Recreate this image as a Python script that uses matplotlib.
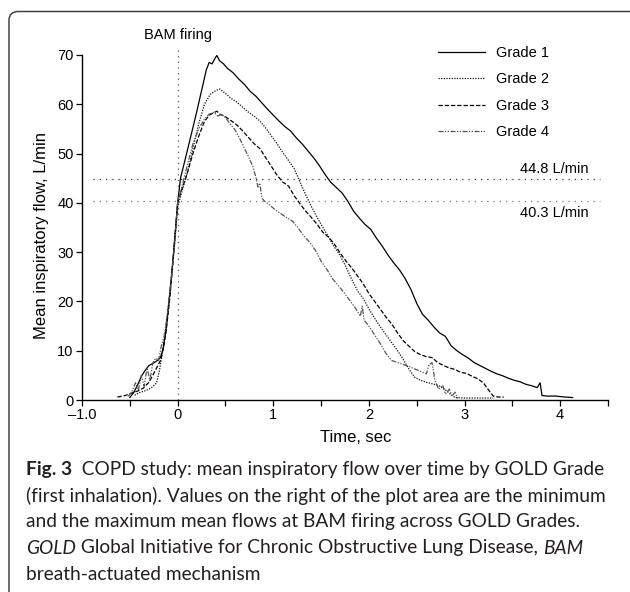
import numpy as np
import matplotlib.pyplot as plt
from matplotlib.patches import FancyBboxPatch

plt.rcParams['font.family'] = ['Liberation Sans', 'DejaVu Sans']

# mean inspiratory flow (L/min) vs time (sec)
t_g1 = [-0.50, -0.46, -0.42, -0.38, -0.34, -0.30, -0.26, -0.22, -0.18, -0.15, -0.12, -0.09,
        -0.06, -0.03, 0.00, 0.03, 0.10, 0.20, 0.30, 0.33, 0.36, 0.39, 0.41, 0.44, 0.48, 0.52,
        0.58, 0.64, 0.70, 0.76, 0.82, 0.88, 0.94, 1.00, 1.06, 1.12, 1.18, 1.24, 1.30, 1.36,
        1.42, 1.48, 1.54, 1.60, 1.66, 1.72, 1.78, 1.84, 1.90, 1.96, 2.02, 2.08, 2.14, 2.20,
        2.26, 2.32, 2.38, 2.44, 2.50, 2.56, 2.62, 2.68, 2.74, 2.80, 2.86, 2.92, 2.98, 3.04,
        3.10, 3.16, 3.22, 3.28, 3.34, 3.40, 3.46, 3.52, 3.58, 3.64, 3.70, 3.76, 3.79, 3.81,
        3.86, 3.95, 4.05, 4.13]
f_g1 = [0.5, 1.5, 3.0, 4.8, 6.0, 7.0, 7.4, 7.9, 8.6, 10.5, 14.5, 20.0,
        26.0, 33.0, 40.0, 45.0, 50.5, 58.5, 67.0, 68.5, 68.2, 69.3, 69.9, 68.8, 68.2, 67.3,
        66.4, 65.1, 64.0, 62.6, 61.6, 60.3, 59.0, 57.8, 56.6, 55.5, 54.6, 53.2, 52.0, 50.6,
        49.2, 47.6, 45.8, 44.2, 43.1, 42.0, 40.3, 38.3, 36.9, 35.6, 34.6, 32.8, 31.2, 29.4,
        27.8, 26.4, 24.6, 22.4, 19.6, 17.4, 16.2, 14.8, 13.6, 12.9, 11.0, 10.0, 9.2, 8.5,
        7.6, 7.0, 6.4, 5.8, 5.3, 4.9, 4.4, 4.0, 3.7, 3.2, 2.9, 2.5, 3.5, 0.9,
        0.8, 0.8, 0.6, 0.5]

t_g2 = [-0.45, -0.40, -0.35, -0.30, -0.26, -0.22, -0.19, -0.16, -0.12, -0.08, -0.04, 0.00,
        0.04, 0.10, 0.16, 0.22, 0.28, 0.34, 0.40, 0.44, 0.50, 0.56, 0.62, 0.68, 0.74, 0.80,
        0.86, 0.92, 0.98, 1.04, 1.10, 1.16, 1.22, 1.28, 1.34, 1.40, 1.46, 1.52, 1.58, 1.64,
        1.70, 1.76, 1.82, 1.88, 1.94, 2.00, 2.06, 2.12, 2.18, 2.24, 2.30, 2.36, 2.42, 2.48,
        2.54, 2.60, 2.66, 2.72, 2.78, 2.84, 2.90, 3.00, 3.15, 3.30]
f_g2 = [1.0, 1.5, 1.8, 2.2, 2.7, 3.5, 6.0, 9.5, 15.0, 22.0, 30.0, 39.0,
        42.0, 46.0, 51.0, 56.0, 60.0, 62.0, 62.8, 63.1, 62.2, 61.2, 60.4, 59.4, 58.4, 57.6,
        56.6, 55.2, 53.6, 52.0, 50.2, 48.6, 46.9, 44.2, 41.6, 39.2, 37.0, 35.0, 33.0, 31.0,
        29.3, 27.0, 24.5, 22.2, 20.6, 18.5, 16.6, 14.8, 13.2, 11.6, 10.0, 8.2, 6.2, 4.6,
        4.0, 3.6, 3.3, 3.0, 2.4, 1.4, 0.5, 0.4, 0.4, 0.4]

t_g3 = [-0.63, -0.55, -0.48, -0.42, -0.36, -0.30, -0.26, -0.22, -0.18, -0.15, -0.12, -0.08,
        -0.04, 0.00, 0.04, 0.10, 0.16, 0.22, 0.28, 0.33, 0.37, 0.41, 0.45, 0.49, 0.55, 0.62,
        0.68, 0.74, 0.80, 0.86, 0.92, 0.98, 1.04, 1.10, 1.16, 1.22, 1.28, 1.34, 1.40, 1.46,
        1.52, 1.58, 1.64, 1.70, 1.76, 1.82, 1.88, 1.94, 2.00, 2.06, 2.12, 2.18, 2.24, 2.30,
        2.36, 2.42, 2.48, 2.54, 2.60, 2.66, 2.72, 2.78, 2.84, 2.90, 2.96, 3.02, 3.08, 3.14,
        3.20, 3.26, 3.30, 3.35, 3.41]
f_g3 = [0.6, 0.9, 1.4, 1.8, 2.4, 3.6, 5.0, 6.5, 8.0, 10.5, 14.0, 21.0,
        30.0, 40.0, 42.5, 46.0, 50.0, 53.5, 56.5, 57.8, 58.2, 58.6, 57.9, 57.6, 56.8, 55.8,
        54.6, 53.3, 52.0, 51.0, 49.2, 47.4, 45.6, 44.2, 43.4, 41.4, 39.8, 38.3, 37.0, 35.6,
        34.0, 33.0, 31.6, 29.8, 28.2, 26.8, 25.2, 23.6, 21.6, 20.0, 18.4, 16.8, 15.4, 13.6,
        12.0, 10.9, 9.8, 9.2, 8.8, 8.6, 7.6, 7.0, 6.5, 6.2, 5.6, 5.4, 4.8, 4.3,
        3.4, 1.8, 0.8, 0.6, 0.6]

t_g4 = [-0.52, -0.48, -0.44, -0.41, -0.38, -0.35, -0.32, -0.29, -0.26, -0.23, -0.20, -0.17,
        -0.14, -0.11, -0.07, -0.03, 0.00, 0.04, 0.10, 0.16, 0.22, 0.28, 0.33, 0.38, 0.42, 0.46,
        0.50, 0.55, 0.60, 0.65, 0.70, 0.75, 0.79, 0.82, 0.84, 0.86, 0.88, 0.91, 0.96, 1.02,
        1.08, 1.14, 1.20, 1.26, 1.32, 1.38, 1.44, 1.50, 1.56, 1.62, 1.68, 1.74, 1.80, 1.86,
        1.91, 1.93, 1.95, 2.00, 2.06, 2.12, 2.18, 2.24, 2.30, 2.36, 2.42, 2.48, 2.54, 2.60,
        2.63, 2.66, 2.69, 2.73, 2.77, 2.80, 2.84, 2.87, 2.90, 2.93]
f_g4 = [0.7, 1.6, 3.5, 2.0, 5.0, 2.8, 6.5, 4.0, 7.5, 8.5, 8.0, 11.0,
        13.0, 17.0, 24.0, 32.0, 40.0, 43.0, 47.5, 52.0, 55.0, 57.0, 58.0, 58.4, 57.6, 58.0,
        57.3, 56.0, 54.8, 53.0, 51.0, 49.0, 47.2, 45.0, 43.2, 44.0, 41.0, 40.3, 39.6, 38.6,
        37.8, 37.0, 36.3, 34.9, 33.3, 32.0, 30.4, 28.2, 26.5, 24.6, 23.2, 21.8, 20.2, 18.6,
        17.0, 19.0, 16.2, 15.0, 13.2, 11.4, 9.4, 8.0, 7.6, 7.2, 6.8, 6.3, 5.8, 5.3,
        7.2, 7.6, 4.0, 2.2, 3.0, 1.2, 2.2, 0.8, 1.6, 0.3]

grades = ['Grade 1', 'Grade 2', 'Grade 3', 'Grade 4']
flow_min = 40.3
flow_max = 44.8

W, H = 630, 592
fig = plt.figure(figsize=(W / 100, H / 100), dpi=100)

def fx(px):
    return px / W

def fy(py):
    return 1 - py / H

ax = fig.add_axes([fx(82), fy(400), fx(608) - fx(82), fy(55) - fy(400)])

ax.plot(t_g1, f_g1, color='black', lw=0.9, ls='-', label=grades[0])
ax.plot(t_g2, f_g2, color='#111111', lw=0.9, ls=(0, (1, 1.1)), label=grades[1])
ax.plot(t_g3, f_g3, color='black', lw=0.9, ls=(0, (3.5, 1.5)), label=grades[2])
ax.plot(t_g4, f_g4, color='#555555', lw=0.9, ls=(0, (4, 1.2, 1, 1.2, 1, 1.2)), label=grades[3])

# BAM firing and min/max flow reference lines
ax.plot([0, 0], [0, 71], color='#555555', lw=0.9, ls=(0, (1, 3.5)), clip_on=False)
ax.plot([-0.88, 4.42], [flow_max, flow_max], color='#333333', lw=0.9, ls=(0, (1, 4)), clip_on=False)
ax.plot([-0.88, 4.42], [flow_min, flow_min], color='#777777', lw=0.9, ls=(0, (1, 4)), clip_on=False)
ax.text(0, 74, 'BAM firing', ha='center', va='center', fontsize=10.5)
ax.text(4.3, flow_max + 2.1, f'{flow_max} L/min', ha='right', va='center', fontsize=10.5)
ax.text(4.3, flow_min - 2.3, f'{flow_min} L/min', ha='right', va='center', fontsize=10.5)

ax.set_xlim(-1, 4.5)
ax.set_ylim(0, 70)
ax.set_xticks([-1, 0, 1, 2, 3, 4])
ax.set_xticklabels(['\u20131.0', '0', '1', '2', '3', '4'])
ax.set_xticks([-0.5, 0.5, 1.5, 2.5, 3.5, 4.5], minor=True)
ax.set_yticks(range(0, 71, 10))
ax.tick_params(axis='both', which='both', direction='out', length=4, width=0.9,
               labelsize=10.5, pad=2)
for s in ['top', 'right']:
    ax.spines[s].set_visible(False)
for s in ['left', 'bottom']:
    ax.spines[s].set_linewidth(1.0)

ax.set_xlabel('Time, sec', fontsize=12)
ax.set_ylabel('Mean inspiratory flow, L/min', fontsize=12)
ax.xaxis.set_label_coords(0.52, -0.087)
ax.yaxis.set_label_coords(-0.062, 0.478)

ax.legend(loc='upper left', bbox_to_anchor=(fx(438), fy(46)), bbox_transform=fig.transFigure,
          frameon=False, fontsize=10.5, handlelength=3.2, handletextpad=0.8,
          labelspacing=0.85, borderpad=0, borderaxespad=0)

# frame around the figure panel
frame = FancyBboxPatch((fx(9), fy(640)), fx(640) - fx(9), fy(11.5) - fy(640),
                       boxstyle='round,pad=0,rounding_size=0.015', transform=fig.transFigure,
                       fill=False, edgecolor='#444444', lw=1.1)
fig.patches.append(frame)

# caption, built piece by piece so bold / italic words sit inline
cap_font = 'Lato'
cap_size = 13.8
cap_color = '#231f20'
caption = [
    [('Fig. 3', 'bold', 'normal'), ('  COPD study: mean inspiratory flow over time by GOLD Grade', 'normal', 'normal')],
    [('(first inhalation). Values on the right of the plot area are the minimum', 'normal', 'normal')],
    [('and the maximum mean flows at BAM firing across GOLD Grades.', 'normal', 'normal')],
    [('GOLD', 'normal', 'italic'), (' Global Initiative for Chronic Obstructive Lung Disease, ', 'normal', 'normal'),
     ('BAM', 'normal', 'italic')],
    [('breath-actuated mechanism', 'normal', 'normal')],
]
line_y = [470, 496, 522, 548, 575]
renderer = fig.canvas.get_renderer()
for parts, py in zip(caption, line_y):
    x = fx(26)
    for s, wt, st in parts:
        txt = fig.text(x, fy(py), s, fontsize=cap_size, family=cap_font, weight=wt,
                       style=st, color=cap_color, va='center', ha='left')
        x += txt.get_window_extent(renderer).width / W

fig.savefig('out.png', dpi=100)
